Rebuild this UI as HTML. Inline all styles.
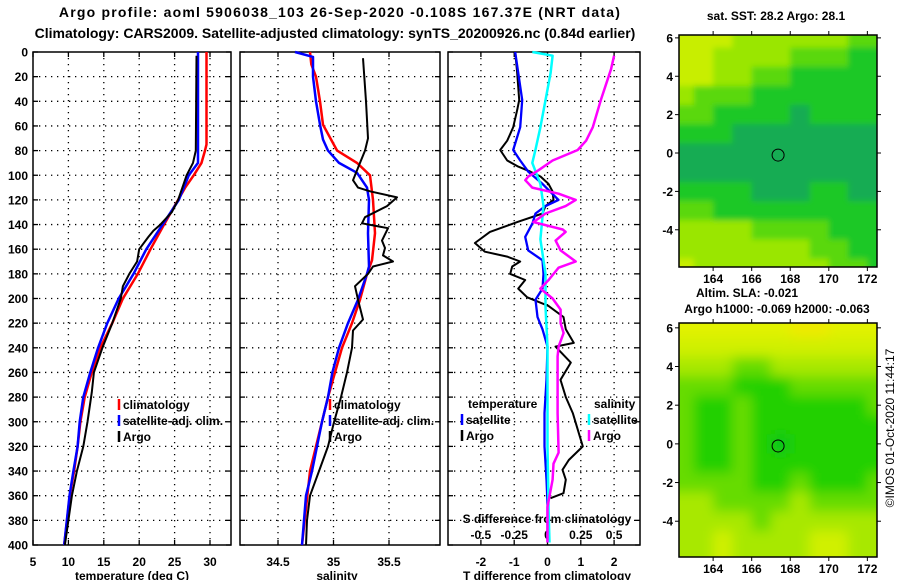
<!DOCTYPE html>
<html><head><meta charset="utf-8"><style>
html,body{margin:0;padding:0;background:#fff;}
svg{display:block;font-family:"Liberation Sans",sans-serif;}
.b{font-weight:bold;font-size:12px;}
</style></head><body>
<svg id="s" width="900" height="580" viewBox="0 0 900 580">
<defs><filter id="bl" x="-0.1" y="-0.1" width="1.2" height="1.2"><feGaussianBlur stdDeviation="6"/></filter>
<filter id="bl1" x="-0.1" y="-0.1" width="1.2" height="1.2"><feGaussianBlur stdDeviation="3"/></filter>
<clipPath id="c1"><rect x="679" y="35" width="198" height="232"/></clipPath>
<clipPath id="c2"><rect x="679" y="323" width="198" height="234"/></clipPath></defs>
<text x="340" y="17" text-anchor="middle" style="font-weight:bold;font-size:14px;letter-spacing:1.2px">Argo profile: aoml 5906038_103 26-Sep-2020 -0.108S 167.37E (NRT data)</text>
<text x="335" y="38" text-anchor="middle" style="font-weight:bold;font-size:14px">Climatology: CARS2009. Satellite-adjusted climatology: synTS_20200926.nc (0.84d earlier)</text>
<g id="maps"></g>
<g id="plots"></g>
<text x="776" y="20" text-anchor="middle" class="b">sat. SST: 28.2 Argo: 28.1</text>
<text x="747" y="297" text-anchor="middle" class="b">Altim. SLA: -0.021</text>
<text x="777" y="313" text-anchor="middle" class="b">Argo h1000: -0.069 h2000: -0.063</text>
<text transform="translate(894,428) rotate(-90)" text-anchor="middle" style="font-size:12px">©IMOS 01-Oct-2020 11:44:17</text>
</svg>
<script>
// ---- temperature panel data (depth dbar, temperature degC)
const climTDepth=[0,75,80,90,100,110,120,140,160,180,200,220,240,260,280,300,320,340,360,400];
const climT=[29.5,29.5,29.3,28.8,27.7,26.5,25.5,23.5,21.6,19.8,17.7,16.2,14.5,13.3,12.3,11.7,11.3,10.8,10.2,9.4];
const satTDepth=[0,90,100,120,140,160,180,200,220,240,260,280,300,320,340,360,400];
const satT=[28.3,28.3,27.0,25.6,23.3,21.0,19.2,17.1,15.5,14.2,13.1,12.1,11.6,11.3,10.7,10.15,9.4];
const argoTDepth=[3,80,90,100,110,120,130,140,145,150,160,170,180,190,200,220,240,260,276,300,320,340,360,380,400];
const argoT=[28.1,28.0,27.6,26.7,26.1,25.5,24.6,23.0,22.0,21.3,20.0,19.7,18.6,17.7,17.4,16.2,14.8,13.6,13.3,12.7,12.1,11.2,10.5,10.0,9.5];
// ---- salinity panel data
const climSDepth=[0,10,20,40,59,80,90,100,120,147,169,180,201,220,240,280,300,340,400];
const climS=[34.788,34.80,34.842,34.878,34.905,35.032,35.212,35.329,35.356,35.374,35.347,35.302,35.239,35.167,35.077,34.95,34.896,34.788,34.716];
const satSDepth=[0,4,20,40,59,71,80,90,98,110,120,147,174,180,201,220,240,260,280,300,320,340,360,400];
const satS=[34.653,34.815,34.815,34.842,34.878,34.905,34.95,35.05,35.212,35.302,35.32,35.311,35.32,35.302,35.221,35.131,35.05,34.99,34.95,34.896,34.851,34.806,34.752,34.716];
const argoSDepth=[5,40,70,80,90,104,110,113,118,125,134,139,143,153,159,165,170,174,180,190,201,217,226,240,260,280,300,320,340,360,380,400];
const argoS=[35.266,35.293,35.311,35.284,35.239,35.176,35.221,35.329,35.572,35.482,35.284,35.257,35.491,35.437,35.464,35.446,35.536,35.356,35.311,35.194,35.221,35.266,35.176,35.167,35.122,35.068,35.005,34.95,34.869,34.788,34.761,34.752];
// ---- difference panel data
const argoDTDepth=[0,17,39,47,61,72,79.5,88,93,97,101,107,113,120,125,131,138,146,155,162,166,170,174,180,185,192,199,206,215,225,236,239,252,266,280,293,320,331,339,347,358,362];
const argoDT=[-0.97,-0.91,-0.85,-0.91,-1.03,-1.21,-1.42,-1.21,-0.88,-0.52,-0.21,0.03,0.15,0.18,-0.06,-0.15,-0.91,-1.73,-2.18,-1.88,-1.21,-0.82,-1.06,-1.12,-0.67,-0.88,-0.61,0.03,0.48,0.55,0.79,0.24,0.7,0.39,0.55,0.76,1.06,0.64,0.45,0.55,0.48,0.09];
const satDTDepth=[0,39,61,79.5,88,97,107,120,125,131,139,150,161,169,180,192,201,215,225,239,266,293,320,347,366,398];
const satDT=[-0.97,-0.76,-0.82,-1.03,-0.82,-0.58,-0.15,0.33,-0.06,-0.36,-0.45,-0.67,-0.58,-0.15,-0.12,-0.15,-0.36,-0.30,-0.15,0.0,-0.03,-0.09,-0.09,-0.03,0.0,0.0];
const satDSDepth=[0,3,17,39,61,79.5,90,107,125,152,180,207,239,266,320,372,398];
const satDS=[-0.114,0.038,0.023,-0.015,-0.053,-0.091,-0.114,-0.053,-0.03,-0.053,-0.015,-0.015,0.0,0.0,0.0,0.008,0.015];
const argoDSDepth=[3,14,39,61,72,79.5,88,96,101,104,110,115,120,125,131,138,144,146,153,161,170,175,185,192,200,209,220,228,239,247,266,293,325,334,347,369,398];
const argoDS=[0.5,0.477,0.40,0.34,0.29,0.227,0.038,-0.068,-0.144,-0.167,-0.114,0.083,0.212,0.136,-0.015,-0.106,0.114,0.136,0.061,0.098,0.212,0.083,0.008,-0.053,0.038,0.098,0.098,0.121,0.083,0.076,0.076,0.076,0.083,0.045,0.038,0.0,0.0];
// ---- map data: colour levels, rows north->south, columns west->east
const sstLat=[6,5,4,3,2,1,0,-1,-2,-3,-4,-5,-6];
const sstGrid=[[4,4,4,3,3,3,3,3,3,2,2],[4,4,3,3,3,3,2,2,2,1,1],[4,4,3,3,2,2,1,1,1,1,1],[3,2,2,2,1,1,1,1,1,1,1],[2,2,1,1,1,1,0,1,1,1,1],[1,1,1,0,0,0,0,0,0,0,0],[0,0,0,0,0,0,0,0,0,0,0],[0,0,0,0,0,0,0,0,0,0,0],[1,1,1,1,0,0,0,1,1,0,0],[2,2,1,1,1,1,1,1,1,1,1],[3,3,3,3,2,2,2,2,1,1,1],[3,3,3,3,3,3,3,2,2,1,1],[4,3,3,3,3,3,3,3,2,2,1]];
const slaLat=[6,5,4,3,2,1,0,-1,-2,-3,-4,-5];
const slaGrid=[[5,5,5,5,5,5,6,6,5,5,5],[4,4,4,4,4,4,4,4,4,4,4],[3,3,3,2,2,3,3,3,3,3,3],[2,2,2,1,1,1,2,2,2,2,2],[2,1,1,2,1,1,1,1,1,1,2],[2,1,1,2,1,1,1,1,1,1,1],[2,1,1,2,1,0,1,1,1,1,1],[2,1,1,2,1,1,1,1,1,1,1],[2,2,2,2,1,1,2,1,1,1,2],[3,3,2,2,2,2,3,2,2,2,2],[3,3,3,3,2,3,3,3,3,3,3],[3,3,4,3,3,3,3,4,4,3,3]];
const gridLon=[162.5,163.5,164.5,165.5,166.5,167.5,168.5,169.5,170.5,171.5,172.5];
const sstColors=['#14ac52','#1ec828','#5ad810','#9ae600','#c8ee00'];
const slaColors=['#10c818','#22d000','#66dc00','#a8e800','#d0f000','#e2f200','#eeea00'];
const depthTicks=[0,20,40,60,80,100,120,140,160,180,200,220,240,260,280,300,320,340,360,380,400];
const tTicks=[5,10,15,20,25,30];
const sTicks=[34.5,35,35.5];
const dtTicks=[-2,-1,0,1,2];
const dsTicks=[-0.5,-0.25,0,0.25,0.5];
const dsTickLabels=['-0.5','-0.25','0','0.25','0.5'];
const lonTicks=[164,166,168,170,172];
const latTicks=[6,4,2,0,-2,-4];

const NS='http://www.w3.org/2000/svg';
const S=document.getElementById('s');
const P=document.getElementById('plots');
const M=document.getElementById('maps');
function mk(tag,at,parent){const e=document.createElementNS(NS,tag);for(const k in at)e.setAttribute(k,at[k]);(parent||P).appendChild(e);return e;}
const Y0=52,Y1=545;
const yD=d=>Y0+(Y1-Y0)*d/400;
const xT=t=>33+(t-5)*7.08;
const xS=s=>278+(s-34.5)*111;
const xDT=t=>547.5+t*33.3;
const xDS=s=>547.5+s*133.2;

function panel(x0,x1,name,vTicks,xf){
  const g=mk('g',{});
  
  
  depthTicks.forEach(d=>{ if(d>0&&d<400){const l=mk('line',{x1:x0,x2:x1,y1:yD(d),y2:yD(d),stroke:'#000','stroke-width':1.3,'stroke-dasharray':'1.3 4.7'},g);
    }
    mk('line',{x1:x0,x2:x0+5,y1:yD(d),y2:yD(d),stroke:'#000','stroke-width':1.3},g);
    mk('line',{x1:x1-5,x2:x1,y1:yD(d),y2:yD(d),stroke:'#000','stroke-width':1.3},g);});
  vTicks.forEach(v=>{const x=xf(v);
    if(x>x0+2&&x<x1-2){const l=mk('line',{x1:x,x2:x,y1:Y0,y2:Y1,stroke:'#000','stroke-width':1.3,'stroke-dasharray':'1.3 4.7'},g);
    }
    mk('line',{x1:x,x2:x,y1:Y0,y2:Y0+5,stroke:'#000','stroke-width':1.3},g);
    mk('line',{x1:x,x2:x,y1:Y1-5,y2:Y1,stroke:'#000','stroke-width':1.3},g);});
  const r=mk('rect',{x:x0,y:Y0,width:x1-x0,height:Y1-Y0,fill:'none',stroke:'#000','stroke-width':1.5},g);
  
  return g;
}
function series(depths,vals,xf,color,w,name){
  const pts=depths.map((d,i)=>xf(vals[i]).toFixed(1)+','+yD(d).toFixed(1)).join(' ');
  const p=mk('polyline',{points:pts,fill:'none',stroke:color,'stroke-width':w,'stroke-linejoin':'round'});
  
  
}
function txt(x,y,s,anchor,cls,name,parent){const t=mk('text',{x:x,y:y,'text-anchor':anchor||'middle',class:cls||'b'},parent);t.textContent=s;
  return t;}

panel(33,231,'temperature-panel',tTicks,xT);
panel(240,440,'salinity-panel',sTicks,xS);
panel(448,640,'difference-panel',dtTicks,xDT);
depthTicks.forEach(d=>txt(28,yD(d)+4.5,String(d),'end','b','depth-tick-label'));
tTicks.forEach(v=>txt(xT(v),566,String(v),'middle','b','temperature-tick-label'));
sTicks.forEach(v=>txt(xS(v),566,String(v),'middle','b','salinity-tick-label'));
dtTicks.forEach(v=>txt(xDT(v),566,String(v),'middle','b','t-diff-tick-label'));
dsTicks.forEach((v,i)=>txt(xDS(v),539,dsTickLabels[i],'middle','b','s-diff-tick-label'));
txt(132,580,'temperature (deg C)','middle','b','temperature-axis-title');
txt(337,580,'salinity','middle','b','salinity-axis-title');
txt(547,580,'T difference from climatology','middle','b','t-diff-axis-title');
txt(547,523,'S difference from climatology','middle','b','s-diff-axis-title');

series(climTDepth,climT,xT,'#ff0000',2.5,'temperature-climatology-line');
series(satTDepth,satT,xT,'#0000ff',2.5,'temperature-satellite-line');
series(argoTDepth,argoT,xT,'#000',2,'temperature-argo-line');
series(climSDepth,climS,xS,'#ff0000',2.5,'salinity-climatology-line');
series(satSDepth,satS,xS,'#0000ff',2.5,'salinity-satellite-line');
series(argoSDepth,argoS,xS,'#000',2,'salinity-argo-line');
series(argoDTDepth,argoDT,xDT,'#000',2,'t-diff-argo-line');
series(satDTDepth,satDT,xDT,'#0000ff',2.3,'t-diff-satellite-line');
series(satDSDepth,satDS,xDS,'#00ffff',2.5,'s-diff-satellite-line');
series(argoDSDepth,argoDS,xDS,'#ff00ff',2.5,'s-diff-argo-line');

function legItem(x,y,color,label,name){
  const l=mk('line',{x1:x,x2:x,y1:y-10,y2:y+1,stroke:color,'stroke-width':2.5});
  
  txt(x+4,y,label,'start','b',name+'-label');
}
legItem(119,409,'#ff0000','climatology','legend-temp-climatology');
legItem(119,425,'#0000ff','satellite-adj. clim.','legend-temp-satellite');
legItem(119,441,'#000','Argo','legend-temp-argo');
legItem(330,409,'#ff0000','climatology','legend-sal-climatology');
legItem(330,425,'#0000ff','satellite-adj. clim.','legend-sal-satellite');
legItem(330,441,'#000','Argo','legend-sal-argo');
txt(468,408,'temperature','start','b','legend-diff-temperature-heading');
legItem(462,424,'#0000ff','satellite','legend-diff-temp-satellite');
legItem(462,440,'#000','Argo','legend-diff-temp-argo');
txt(594,408,'salinity','start','b','legend-diff-salinity-heading');
legItem(589,424,'#00ffff','satellite','legend-diff-sal-satellite');
legItem(589,440,'#ff00ff','Argo','legend-diff-sal-argo');

// ---- maps
function map(top,bot,latTop,latBot,lats,grid,colors,name,clip,filt){
  const L=679,R=877,lon0=162.23,lon1=172.5;
  const xL=lo=>L+(lo-lon0)*(R-L)/(lon1-lon0);
  const yL=la=>top+(latTop-la)*(bot-top)/(latTop-latBot);
  const g=mk('g',{},M);
  
  
  const cg=mk('g',{filter:'url(#'+filt+')'},mk('g',{'clip-path':'url(#'+clip+')'},g));
  mk('rect',{x:L-20,y:top-20,width:R-L+40,height:bot-top+40,fill:colors[2]},cg);
  lats.forEach((la,i)=>gridLon.forEach((lo,j)=>{
    let x0=xL(lo-0.5),x1=xL(lo+0.5),y0=yL(la+0.5),y1=yL(la-0.5);
    if(j===0)x0-=20; if(j===gridLon.length-1)x1+=20; if(i===0)y0-=20; if(i===lats.length-1)y1+=20;
    const c=mk('rect',{x:x0.toFixed(1),y:y0.toFixed(1),width:(x1-x0+0.5).toFixed(1),height:(y1-y0+0.5).toFixed(1),fill:colors[grid[i][j]]},cg);
    
    
  }));
  mk('rect',{x:L,y:top,width:R-L,height:bot-top,fill:'none',stroke:'#000','stroke-width':1.5},g);
  const c=mk('circle',{cx:xL(167.37),cy:yL(-0.108),r:6,fill:'none',stroke:'#000','stroke-width':1},g);
  
  lonTicks.forEach(lo=>{const x=xL(lo);
    mk('line',{x1:x,x2:x,y1:top-4,y2:top,stroke:'#000'},g);mk('line',{x1:x,x2:x,y1:bot,y2:bot+4,stroke:'#000'},g);
    txt(x,bot+16,String(lo),'middle','b','longitude-tick-label',g);});
  latTicks.forEach(la=>{const y=yL(la);
    mk('line',{x1:L-4,x2:L,y1:y,y2:y,stroke:'#000'},g);mk('line',{x1:R,x2:R+4,y1:y,y2:y,stroke:'#000'},g);
    txt(673,y+4.5,String(la),'end','b','latitude-tick-label',g);});
}
map(35,267,6.15,-5.94,sstLat,sstGrid,sstColors,'sst-map','c1','bl1');
map(323,557,6.25,-5.85,slaLat,slaGrid,slaColors,'sla-map','c2','bl');
</script>
</body></html>
